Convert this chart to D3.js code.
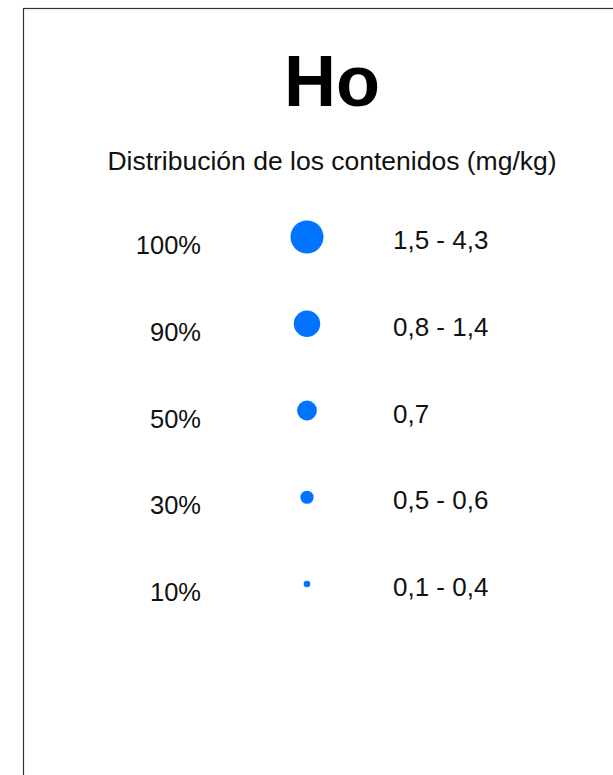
<!DOCTYPE html>
<html>
<head>
<meta charset="utf-8">
<script src="https://cdn.jsdelivr.net/npm/d3@7"></script>
<style>
  html, body { margin: 0; padding: 0; background: #fff; overflow: hidden; }
  svg { display: block; font-family: "Liberation Sans", Arial, sans-serif; }
</style>
</head>
<body>
<svg id="chart" width="613" height="775"></svg>
<script>
const element = "Ho";
const subtitle = "Distribución de los contenidos (mg/kg)";
const percentiles = ["100%", "90%", "50%", "30%", "10%"];
const ranges = ["1,5 - 4,3", "0,8 - 1,4", "0,7", "0,5 - 0,6", "0,1 - 0,4"];
const classRank = [5, 4, 3, 2, 1];

const svg = d3.select("#chart");

svg.append("rect")
  .attr("x", 23.5).attr("y", 8.5)
  .attr("width", 640).attr("height", 800)
  .attr("fill", "#fff").attr("stroke", "#333").attr("stroke-width", 1.2);

const cx = 332;
svg.append("text")
  .attr("x", cx).attr("y", 106)
  .attr("text-anchor", "middle")
  .attr("font-size", 72).attr("font-weight", "bold")
  .attr("fill", "#000")
  .text(element);

svg.append("text")
  .attr("x", cx).attr("y", 170)
  .attr("text-anchor", "middle")
  .attr("font-size", 26.5)
  .attr("fill", "#111")
  .text(subtitle);

const y = d3.scalePoint().domain(percentiles).range([237, 584]);
const r = d3.scaleLinear().domain([1, 5]).range([3.3, 16.5]);

const rows = svg.append("g").selectAll("g")
  .data(percentiles.map((p, i) => ({p, range: ranges[i], rank: classRank[i]})))
  .join("g");

rows.append("text")
  .attr("x", 201).attr("y", d => y(d.p) + 17)
  .attr("text-anchor", "end")
  .attr("font-size", 25.5)
  .attr("fill", "#111")
  .text(d => d.p);

rows.append("circle")
  .attr("cx", 307).attr("cy", d => y(d.p))
  .attr("r", d => r(d.rank))
  .attr("fill", "#0073ff");

rows.append("text")
  .attr("x", 393).attr("y", d => y(d.p) + 12)
  .attr("font-size", 26)
  .attr("fill", "#111")
  .text(d => d.range);
</script>
</body>
</html>
